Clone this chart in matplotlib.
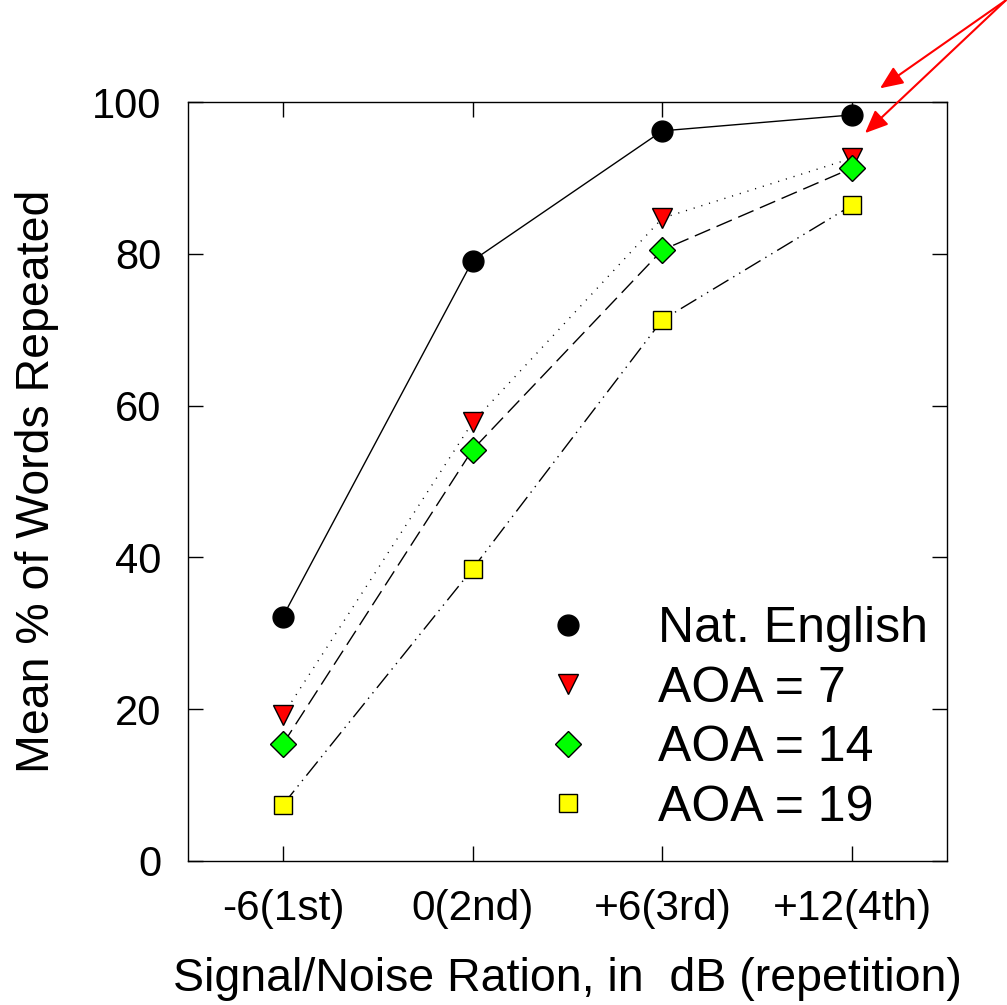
import numpy as np
import matplotlib
matplotlib.use('Agg')
import matplotlib.pyplot as plt
from matplotlib.lines import Line2D

plt.rcParams['font.family'] = ['Liberation Sans', 'DejaVu Sans']

conditions = ['-6(1st)', '0(2nd)', '+6(3rd)', '+12(4th)']
nat_english = [32.2, 79.1, 96.2, 98.3]
aoa_7 = [19.2, 57.8, 84.7, 92.6]
aoa_14 = [15.4, 54.2, 80.5, 91.3]
aoa_19 = [7.4, 38.5, 71.3, 86.4]

labels = ['Nat. English', 'AOA = 7', 'AOA = 14', 'AOA = 19']


def main():
    fig = plt.figure(figsize=(10.07, 10.05), dpi=100)
    ax = fig.add_axes([0.1867, 0.1433, 0.7537, 0.7552])
    x = np.arange(1, len(conditions) + 1)

    styles = [
        dict(ls='-', marker='o', mfc='black', ms=15),
        dict(ls=(0, (0.8, 5)), marker='v', mfc='#ff0000', ms=15),
        dict(ls=(0, (12, 5)), marker='D', mfc='#00ff00', ms=13),
        dict(ls=(0, (13, 4, 1, 4, 1, 4)), marker='s', mfc='#ffff00', ms=12.5),
    ]
    series = [nat_english, aoa_7, aoa_14, aoa_19]
    handles = []
    for vals, st, lab in zip(series, styles, labels):
        ax.plot(x, vals, color='black', lw=1.0, linestyle=st['ls'],
                marker=st['marker'], mfc=st['mfc'], mec='black', mew=1.0,
                ms=st['ms'], zorder=3)
        handles.append(Line2D([], [], ls='none', marker=st['marker'],
                              mfc=st['mfc'], mec='black', mew=1.0,
                              ms=st['ms'], label=lab))

    ax.set_xlim(0.5, 4.5)
    ax.set_ylim(0, 100)
    ax.set_xticks(x)
    ax.set_xticklabels(conditions)
    ax.set_yticks([0, 20, 40, 60, 80, 100])
    ax.tick_params(direction='in', length=11, width=1.0, top=True, right=True)
    ax.tick_params(axis='y', labelsize=30, pad=19)
    ax.tick_params(axis='x', labelsize=30.5, pad=20)
    for sp in ax.spines.values():
        sp.set_linewidth(1.0)

    ax.set_xlabel('Signal/Noise Ration, in  dB (repetition)', fontsize=33.5, labelpad=20)
    ax.set_ylabel('Mean % of Words Repeated', fontsize=33.5, labelpad=24)

    ax.legend(handles=handles, loc='upper left', bbox_to_anchor=(0.514, 0.397),
              bbox_transform=fig.transFigure, frameon=False, fontsize=36,
              borderpad=0, borderaxespad=0, labelspacing=0.27,
              handlelength=2.0, handletextpad=0.8)

    for tip in [(4.147, 101.8), (4.068, 95.9)]:
        ax.annotate('', xy=tip, xytext=(4.81, 113.4), annotation_clip=False,
                    arrowprops=dict(arrowstyle='-|>,head_length=1.4,head_width=0.6',
                                    color='#ff0000', lw=1.5, shrinkA=0, shrinkB=0))

    fig.savefig('out.png', dpi=100)
    return 0


if __name__ == '__main__':
    main()
